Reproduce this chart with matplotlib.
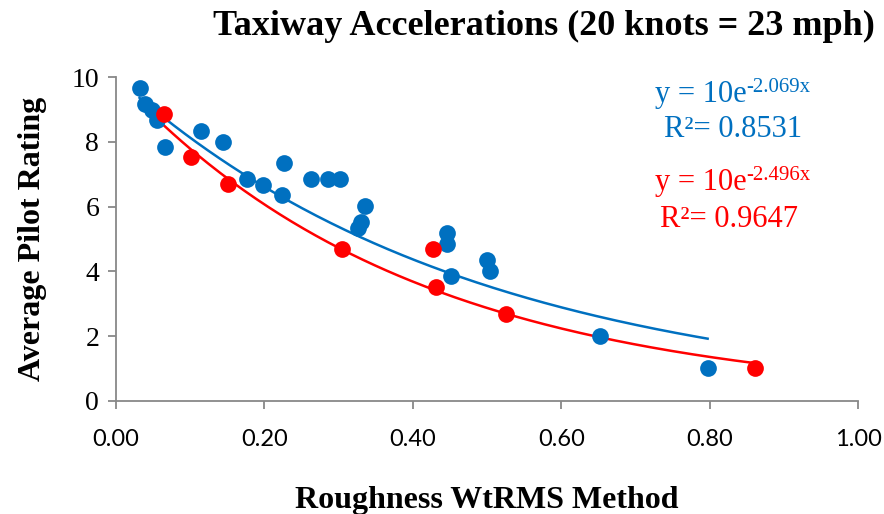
import numpy as np
import matplotlib
matplotlib.use("Agg")
import matplotlib.pyplot as plt

# blue series (all runs)
blue_x = [0.032, 0.039, 0.049, 0.055, 0.066, 0.115, 0.144, 0.177, 0.198, 0.224,
          0.226, 0.263, 0.286, 0.302, 0.326, 0.330, 0.336, 0.446, 0.446, 0.452,
          0.500, 0.504, 0.652, 0.797]
blue_y = [9.66, 9.17, 8.98, 8.67, 7.84, 8.33, 7.99, 6.85, 6.67, 6.36,
          7.35, 6.85, 6.85, 6.85, 5.34, 5.52, 6.02, 5.19, 4.85, 3.86,
          4.35, 4.01, 2.00, 1.02]

# red series
red_x = [0.065, 0.101, 0.151, 0.305, 0.427, 0.431, 0.526, 0.861]
red_y = [8.86, 7.53, 6.70, 4.69, 4.69, 3.52, 2.69, 1.02]

blue_k = 2.069
red_k = 2.496
blue_r2 = 0.8531
red_r2 = 0.9647

BLUE = "#0070C0"
RED = "#FF0000"

fig = plt.figure(figsize=(8.84, 5.14), dpi=100)
ax = fig.add_axes([0.131, 0.22, 0.84, 0.63])

# fitted exponential trendlines
xb = np.linspace(min(blue_x), max(blue_x), 200)
xr = np.linspace(min(red_x), max(red_x), 200)
ax.plot(xb, 10 * np.exp(-blue_k * xb), color=BLUE, lw=1.8, zorder=2)
ax.plot(xr, 10 * np.exp(-red_k * xr), color=RED, lw=1.8, zorder=2)

ax.scatter(blue_x, blue_y, s=145, color=BLUE, zorder=3, linewidths=0)
ax.scatter(red_x, red_y, s=145, color=RED, zorder=4, linewidths=0)

ax.set_xlim(0, 1.0)
ax.set_ylim(0, 10)
ax.set_xticks(np.arange(0, 1.01, 0.2))
ax.set_xticklabels([f"{v:.2f}" for v in np.arange(0, 1.01, 0.2)],
                   family="Lato", fontsize=17)
ax.set_yticks(range(0, 11, 2))
ax.set_yticklabels([str(v) for v in range(0, 11, 2)],
                   family="Liberation Serif", fontsize=20)
ax.tick_params(axis="x", length=6, width=1.3, color="#888888", pad=14)
ax.tick_params(axis="y", length=6, width=1.3, color="#888888", pad=6)

for side in ["top", "right"]:
    ax.spines[side].set_visible(False)
for side in ["left", "bottom"]:
    ax.spines[side].set_color("#888888")
    ax.spines[side].set_linewidth(1.3)

ax.set_xlabel("Roughness WtRMS Method", family="Liberation Serif",
              fontweight="bold", fontsize=23, labelpad=26)
ax.set_ylabel("Average Pilot Rating", family="Liberation Serif",
              fontweight="bold", fontsize=23, labelpad=18)
fig.text(0.615, 0.948, "Taxiway Accelerations (20 knots = 23 mph)",
         family="Liberation Serif", fontweight="bold", fontsize=26,
         ha="center", va="center")


def equation(x, y, k, color):
    """Write y = 10e^(-kx) with a plain hyphen in the exponent."""
    t = fig.text(x, y, "y = 10e", color=color, family="Liberation Serif",
                 fontsize=22, ha="left", va="baseline")
    fig.canvas.draw()
    bb = t.get_window_extent()
    fig.text(bb.x1 / fig.bbox.width, y + 10 / 514, "-%.3fx" % k, color=color,
             family="Liberation Serif", fontsize=15, ha="left", va="baseline")


equation(655 / 884, 1 - 102 / 514, blue_k, BLUE)
equation(655 / 884, 1 - 190 / 514, red_k, RED)

r2_font = dict(family="Liberation Serif", fontsize=22, ha="left", va="baseline")
fig.text(664 / 884, 1 - 137 / 514, "R\u00b2= %.4f" % blue_r2, color=BLUE, **r2_font)
fig.text(660 / 884, 1 - 227 / 514, "R\u00b2= %.4f" % red_r2, color=RED, **r2_font)

fig.savefig("out.png", dpi=100)
